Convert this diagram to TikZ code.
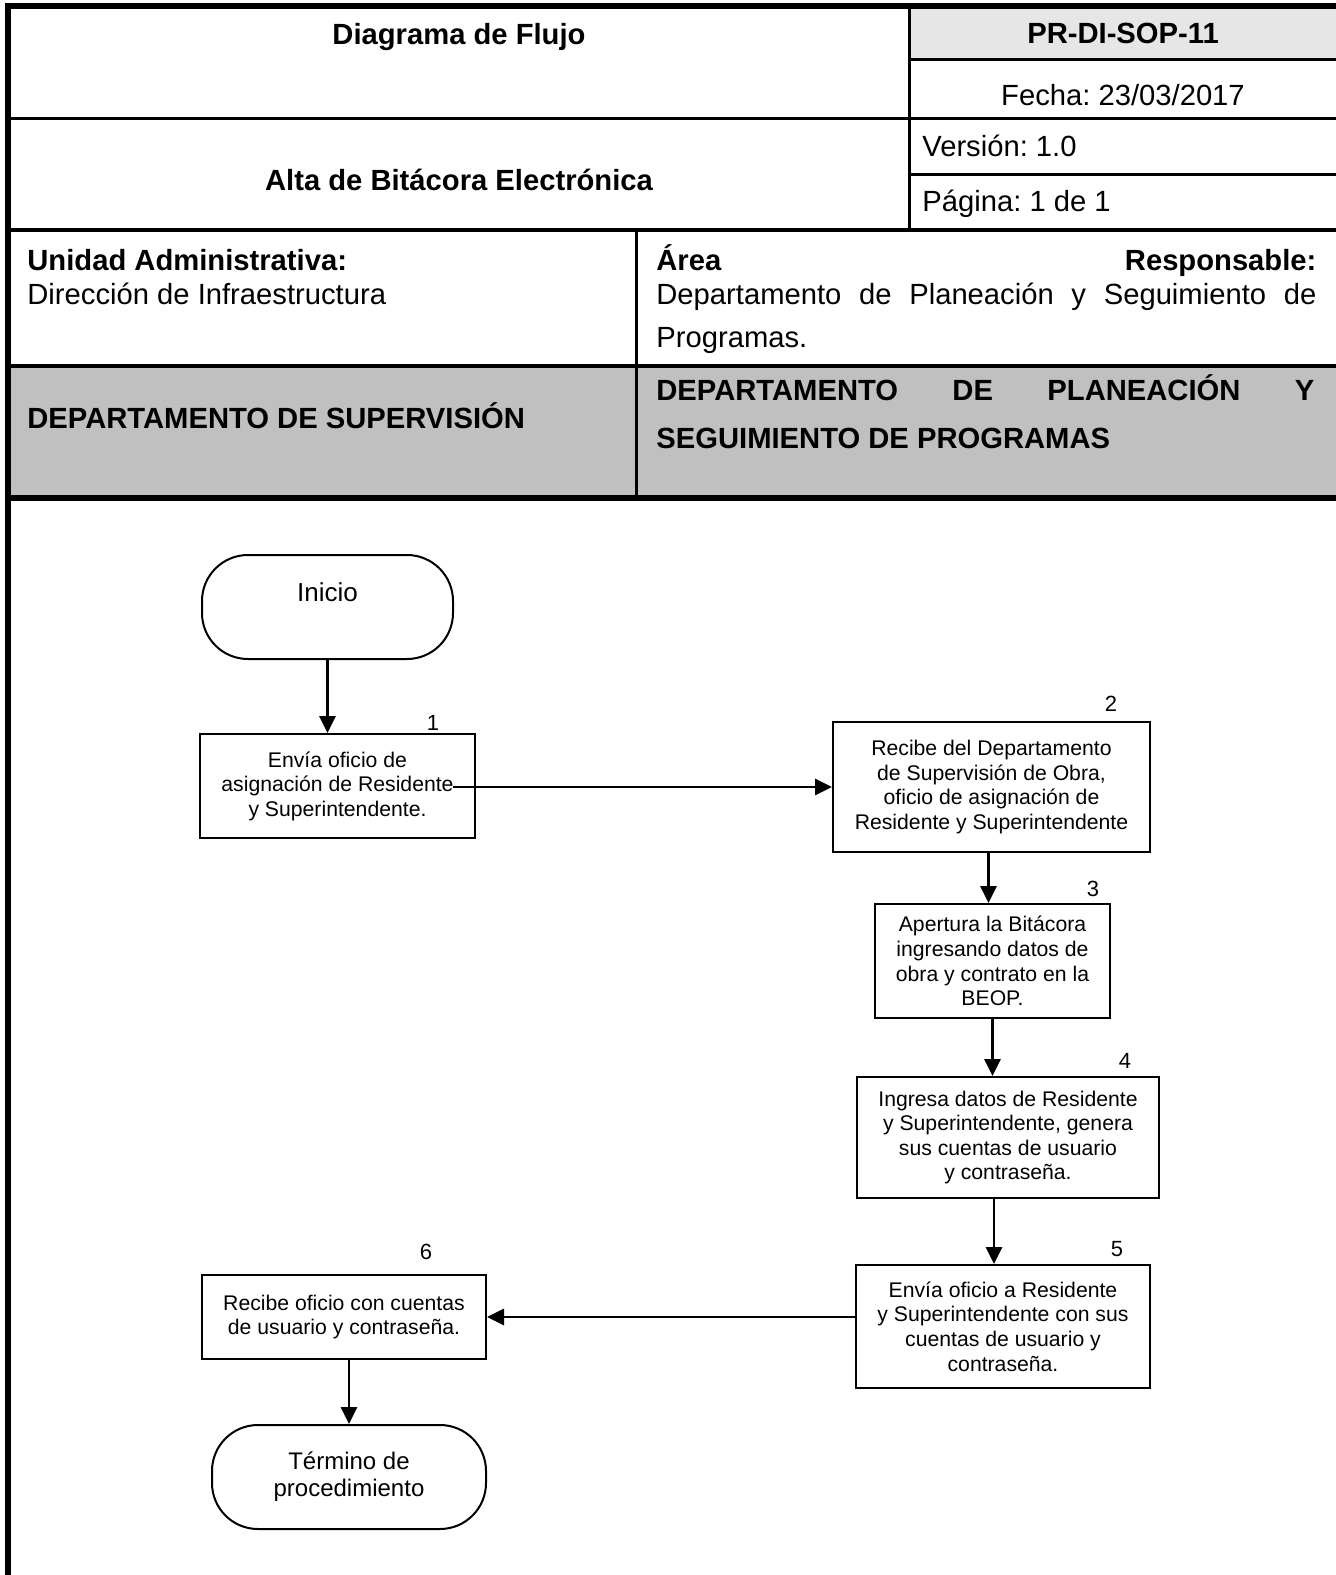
\documentclass[tikz,border=0pt]{standalone}
\usepackage{fontspec}
\setmainfont{Liberation Sans}
\usetikzlibrary{arrows.meta,calc}
\definecolor{cellgray}{HTML}{E6E6E6}
\definecolor{bandgray}{HTML}{C0C0C0}
\frenchspacing
\begin{document}
\begin{tikzpicture}[x=0.5pt,y=-0.5pt,
  hdr/.style={inner sep=0pt, font=\fontsize{14.6}{17.5}\selectfont},
  hdrb/.style={inner sep=0pt, font=\fontsize{14.6}{17.5}\selectfont\bfseries},
  stepbox/.style={draw, line width=1pt, inner sep=0pt, align=center, font=\fontsize{10.6}{12.3}\selectfont},
  term/.style={draw, line width=1pt, rounded corners=23pt, inner sep=0pt, align=center},
  num/.style={inner sep=0pt, anchor=base, font=\fontsize{11}{13}\selectfont},
  arr/.style={line width=1.4pt, -{Triangle[width=8pt,length=8.5pt]}},
  thick1/.style={line width=1.5pt},
]
\useasboundingbox (0,0) rectangle (1336,1575);
% fills
\fill[cellgray] (910,8) rectangle (1336,59);
\fill[bandgray] (8,366) rectangle (1336,497);
% table lines
\draw[line width=3pt] (5,6) -- (1336,6);
\draw[line width=3pt] (8,3) -- (8,1575);
\draw[line width=1.75pt] (909,59.5) -- (1336,59.5);
\draw[thick1] (8,118) -- (1336,118);
\draw[thick1] (909,174) -- (1336,174);
\draw[line width=2pt] (8,230) -- (1336,230);
\draw[line width=2.3pt] (8,366) -- (1336,366);
\draw[line width=3pt] (8,498) -- (1336,498);
\draw[thick1] (909,6) -- (909,230);
\draw[thick1] (636,230) -- (636,498);
% header texts
\node[hdrb, anchor=base] (tdiag) at (459,44) {Diagrama de Flujo};
\node[hdrb, anchor=base] (tcode) at (1123,43) {PR-DI-SOP-11};
\node[hdr, anchor=base] (tfecha) at (1123,105) {Fecha: 23/03/2017};
\node[hdrb, anchor=base] (talta) at (459,190) {Alta de Bitácora Electrónica};
\node[hdr, anchor=base west] (tver) at (922,156) {Versión: 1.0};
\node[hdr, anchor=base west] (tpag) at (922,211) {Página: 1 de 1};
\node[hdrb, anchor=base west] (tunid) at (27,270) {Unidad Administrativa:};
\node[hdr, anchor=base west] (tdir) at (27,304) {Dirección de Infraestructura};
\node[hdrb, anchor=base west] (tarea) at (656,270) {\hbox to 330pt{Área\hfill Responsable:}};
\node[hdr, anchor=base west] (tdep1) at (656,304) {\hbox to 330pt{Departamento\hfill de\hfill Planeación\hfill y\hfill Seguimiento\hfill de}};
\node[hdr, anchor=base west] (tdep2) at (656,347) {Programas.};
\node[hdrb, anchor=base west] (tsup) at (27,428) {DEPARTAMENTO DE SUPERVISIÓN};
\node[hdrb, anchor=base west] (tpla1) at (656,400) {\hbox to 329pt{DEPARTAMENTO\hfill DE\hfill PLANEACIÓN\hfill Y}};
\node[hdrb, anchor=base west] (tpla2) at (656,448) {SEGUIMIENTO DE PROGRAMAS};
% flow nodes
\node[term, minimum width=125.5pt, minimum height=52pt, font=\fontsize{13}{15}\selectfont] (ini) at (327.5,607) {Inicio\\\mbox{}};
\node[stepbox, minimum width=137.5pt, minimum height=52pt] (b1) at (337.5,786) {Envía oficio de\\asignación de Residente\\y Superintendente.};
\node[stepbox, minimum width=158.5pt, minimum height=65pt] (b2) at (991.5,787) {Recibe del Departamento\\de Supervisión de Obra,\\oficio de asignación de\\Residente y Superintendente};
\node[stepbox, minimum width=117.5pt, minimum height=57pt] (b3) at (992.5,961) {Apertura la Bitácora\\ingresando datos de\\obra y contrato en la\\BEOP.};
\node[stepbox, minimum width=151pt, minimum height=60.5pt] (b4) at (1008,1137.5) {Ingresa datos de Residente\\y Superintendente, genera\\sus cuentas de usuario\\y contraseña.};
\node[stepbox, minimum width=147pt, minimum height=61.5pt] (b5) at (1003,1326.5) {Envía oficio a Residente\\y Superintendente con sus\\cuentas de usuario y\\contraseña.};
\node[stepbox, minimum width=142pt, minimum height=42pt] (b6) at (344,1317) {Recibe oficio con cuentas\\de usuario y contraseña.};
\node[term, minimum width=137pt, minimum height=52pt, font=\fontsize{12}{13.5}\selectfont] (fin) at (349,1477) {Término de\\procedimiento};
% numbers
\node[num] (n1) at (433,730) {1};
\node[num] (n2) at (1111,711) {2};
\node[num] (n3) at (1093,896) {3};
\node[num] (n4) at (1125,1068) {4};
\node[num] (n5) at (1117,1256) {5};
\node[num] (n6) at (426,1259) {6};
% connectors
\draw[arr] (ini.south) -- (ini.south |- b1.north);
\coordinate (p1) at ($(b1.east)+(-23,1)$);
\draw[arr] (p1) -- (p1 -| b2.west);
\draw[arr] ($(b2.south)+(-3,0)$) -- ($(b2.south |- b3.north)+(-3,0)$);
\draw[arr] (b3.south) -- (b3.south |- b4.north);
\coordinate (p4) at ($(b4.south)+(-14,0)$);
\draw[arr] (p4) -- (p4 |- b5.north);
\draw[arr] (b5.west |- b6.east) -- (b6.east);
\draw[arr] (b6.south -| fin.north) -- (fin.north);
\end{tikzpicture}
\end{document}
